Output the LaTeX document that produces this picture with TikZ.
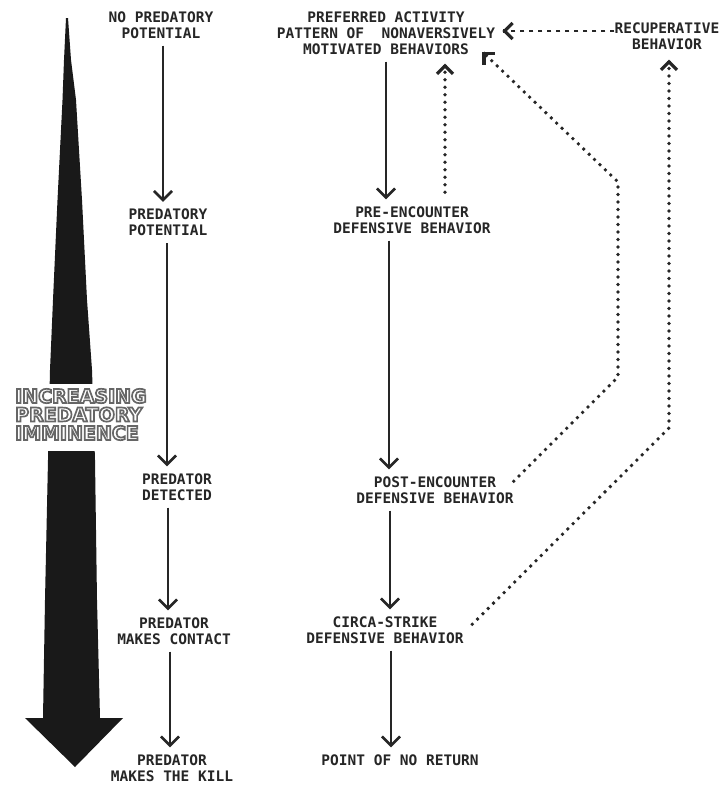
\documentclass[tikz,border=0pt]{standalone}
\usepackage{fontspec}
\usetikzlibrary{arrows.meta}
\newfontfamily\labfont{DejaVu Sans Mono}
\newfontfamily\bigfont{DejaVu Sans}
\newcommand{\outl}[1]{{\color{white}\special{pdf:literal direct 0.4 G 2 Tr 1.7 w}#1\special{pdf:literal direct 0 Tr}}}
\tikzset{
  lab/.style={font=\labfont\bfseries\fontsize{14.5}{16}\selectfont, align=center, inner sep=0pt, text=black!85},
  sarr/.style={draw=black!85, line width=2.6pt, -{Straight Barb[length=9pt,width=18pt]}, shorten <=7pt, shorten >=7pt},
  dotline/.style={draw=black!85, line width=3.8pt, line cap=round, dash pattern=on 0pt off 7.5pt},
  dashline/.style={draw=black!85, line width=2.8pt, dash pattern=on 4.5pt off 4.5pt},
  dottip/.style={draw=black!85, line width=3.2pt, -{Straight Barb[length=8pt,width=16pt]}},
  bigtxt/.style={font=\bigfont\bfseries\fontsize{19}{18.5}\selectfont, align=left, inner sep=0pt, anchor=west}
}
\begin{document}
\begin{tikzpicture}[x=1pt,y=-1pt]
\useasboundingbox[fill=white] (0,0) rectangle (720,785);

% big tapered arrow
\fill[black!90] (66,18) -- (64,60) -- (62.5,100) -- (57.5,200) -- (53,300) -- (50,370) -- (48,460)
  -- (45,600) -- (43,718) -- (25,718) -- (75,767) -- (123,718) -- (100,718) -- (97,600)
  -- (95,460) -- (92,370) -- (87,300) -- (82,200) -- (76,100) -- (71,60) -- (68,18) -- cycle;
\fill[white] (36,384) rectangle (106,451);
\node[bigtxt] (imm) at (15,414.5) {\outl{INCREASING}\\\outl{PREDATORY}\\\outl{IMMINENCE}};

% left column
\node[lab] (n1) at (161,25) {NO PREDATORY\\POTENTIAL};
\node[lab] (n2) at (168,222.5) {PREDATORY\\POTENTIAL};
\node[lab] (n3) at (177,487) {PREDATOR\\DETECTED};
\node[lab] (n4) at (174,631) {PREDATOR\\MAKES CONTACT};
\node[lab] (n5) at (172,768) {PREDATOR\\MAKES THE KILL};

% right column
\node[lab] (r1) at (386,33) {PREFERRED ACTIVITY\\PATTERN OF\ \ NONAVERSIVELY\\MOTIVATED BEHAVIORS};
\node[lab] (r2) at (412,220) {PRE-ENCOUNTER\\DEFENSIVE BEHAVIOR};
\node[lab] (r3) at (435,490) {POST-ENCOUNTER\\DEFENSIVE BEHAVIOR};
\node[lab] (r4) at (385,630) {CIRCA-STRIKE\\DEFENSIVE BEHAVIOR};
\node[lab] (r5) at (400,760) {POINT OF NO RETURN};
\node[lab] (r6) at (667,36.5) {RECUPERATIVE\\BEHAVIOR};

% x positions of vertical connectors
\coordinate (a1) at (163,0);
\coordinate (a2) at (167,0);
\coordinate (a3) at (168,0);
\coordinate (a4) at (170,0);
\coordinate (c1) at (386,0);
\coordinate (c2) at (389,0);
\coordinate (c3) at (390,0);
\coordinate (c4) at (391,0);
\coordinate (d1) at (445,0);
\coordinate (b1) at (618,377);
\coordinate (b2) at (618,182);
\coordinate (b3) at (669,428);
\coordinate (hy) at (0,31);

\draw[sarr] (n1.south -| a1) -- (n2.north -| a1);
\draw[sarr] (n2.south -| a2) -- (n3.north -| a2);
\draw[sarr] (n3.south -| a3) -- (n4.north -| a3);
\draw[sarr] (n4.south -| a4) -- (n5.north -| a4);

\draw[sarr] (r1.south -| c1) -- (r2.north -| c1);
\draw[sarr] (r2.south -| c2) -- (r3.north -| c2);
\draw[sarr] (r3.south -| c3) -- (r4.north -| c3);
\draw[sarr] (r4.south -| c4) -- (r5.north -| c4);

% tip points of the feedback connectors
\path (r1.south -| d1) ++(0,9) coordinate (t1);
\path (r1.south east) ++(-13,-3) coordinate (t2);
\path (r6.south -| b3) ++(0,9.5) coordinate (t3);
\path (r1.east |- hy) ++(7,0) coordinate (t4);

% dotted / dashed feedback connectors
\draw[dotline, shorten <=14pt, shorten >=3pt] (r2.north -| d1) -- (t1);
\draw[dottip] (t1) ++(0,1) -- (t1);
\draw[dotline, shorten >=3pt] ([yshift=-5pt]r3.north east) -- (b1) -- (b2) -- (t2);
\draw[dottip] (t2) ++(1,1) -- (t2);
\draw[dotline, shorten >=3pt] ([xshift=8.5pt,yshift=-8pt]r4.north east) -- (b3) -- (t3);
\draw[dottip] (t3) ++(0,1) -- (t3);
\draw[dashline, shorten >=3pt] (r6.west |- hy) -- (t4);
\draw[dottip] (t4) ++(1,0) -- (t4);
\end{tikzpicture}
\end{document}
